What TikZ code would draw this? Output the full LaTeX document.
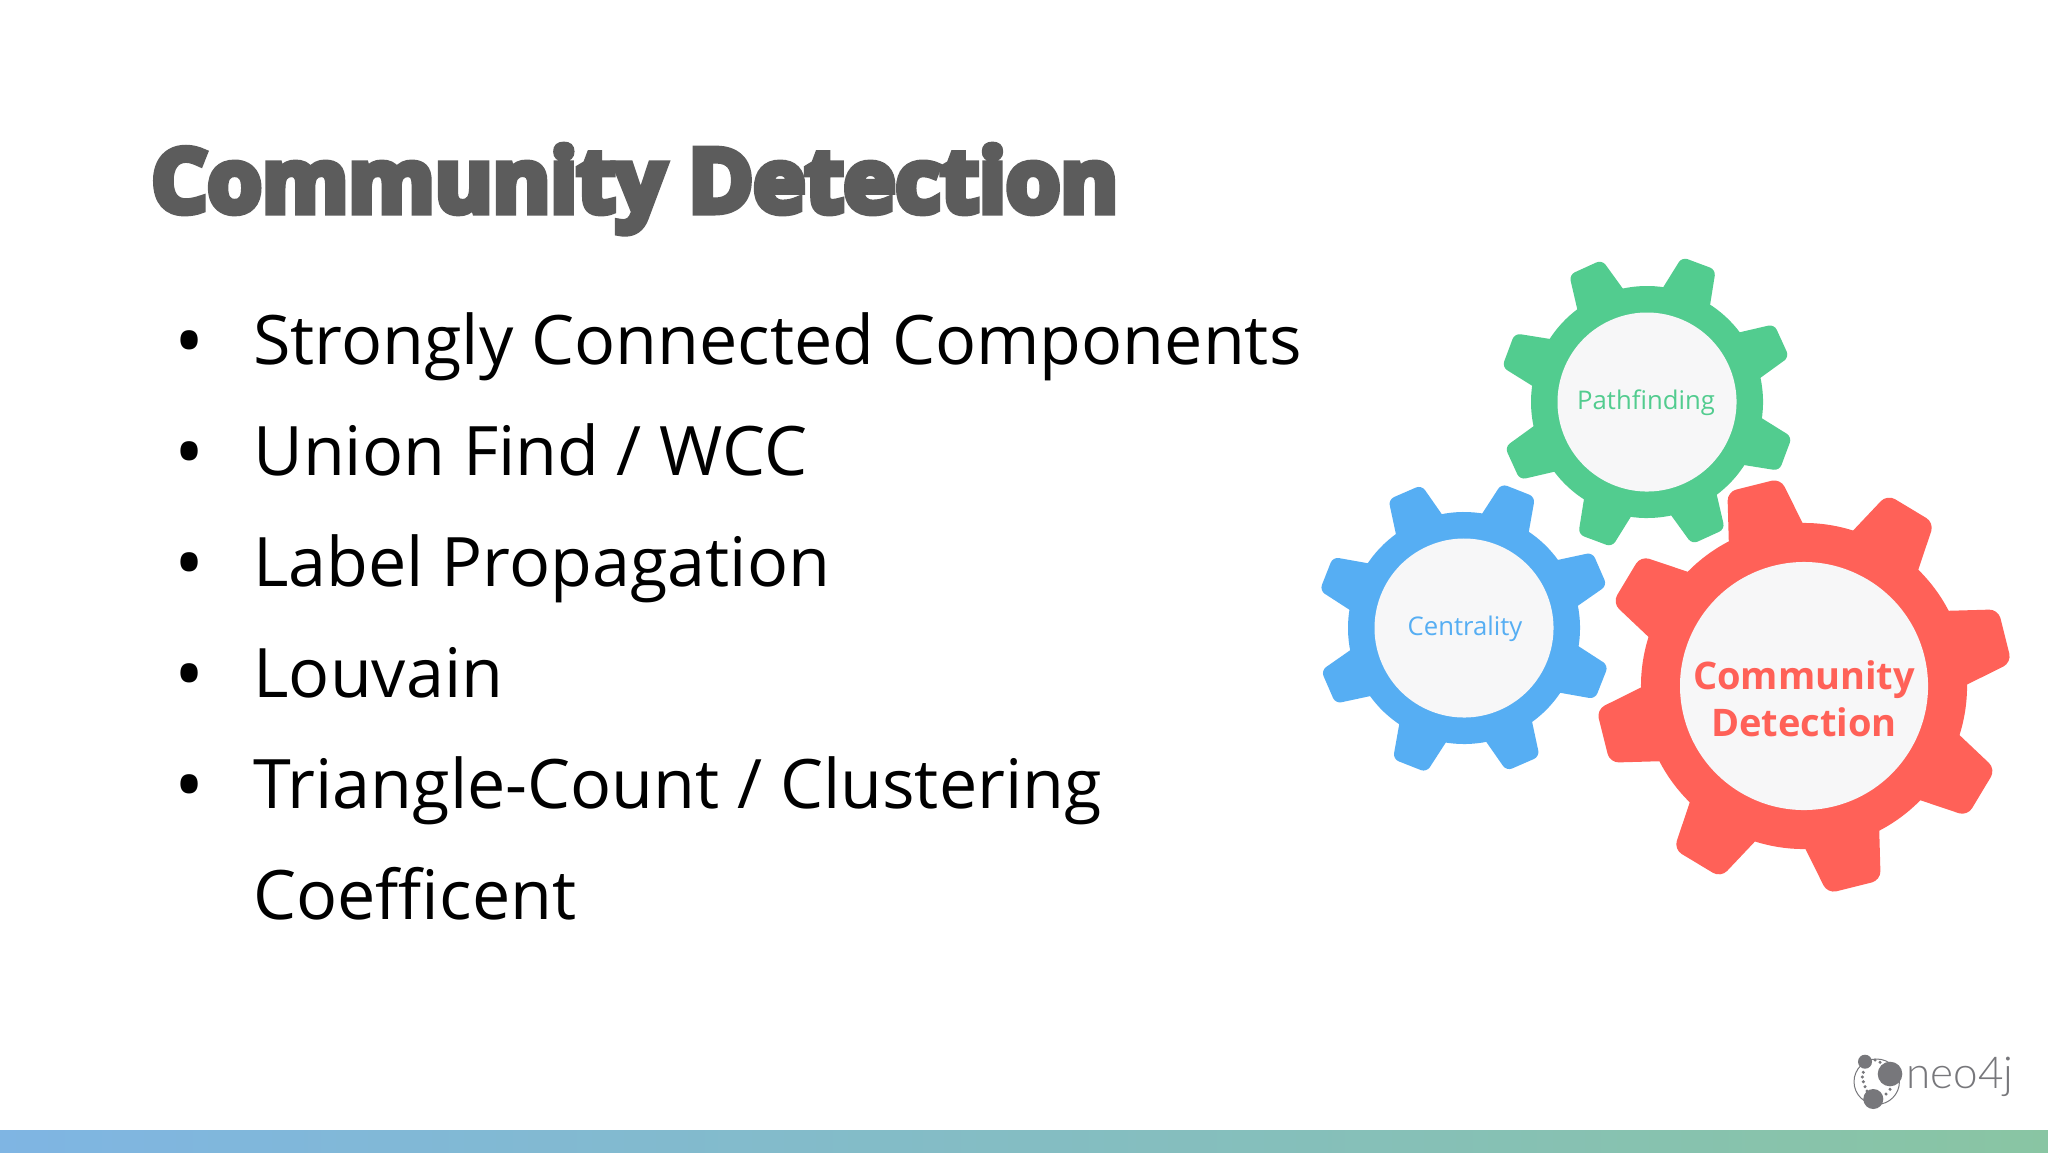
\documentclass[tikz,border=0pt]{standalone}
\usepackage{fontspec}
\setmainfont{Open Sans}
\newfontfamily\titlefont[BoldFeatures={FakeBold=8}]{Open Sans}
\newfontfamily\logofont{Lato Light}
\usetikzlibrary{calc}
\definecolor{cgreen}{HTML}{52CC8F}
\definecolor{cblue}{HTML}{56AEF3}
\definecolor{cred}{HTML}{FF6158}
\definecolor{chub}{HTML}{F7F7F8}
\definecolor{ctitle}{HTML}{5C5C5C}
\definecolor{clogo}{HTML}{77777B}
\definecolor{barl}{HTML}{7FB5E3}
\definecolor{barr}{HTML}{89C5A3}
\tikzset{
  itemtext/.style={anchor=base west,inner sep=0pt,font=\fontsize{34.12}{41}\selectfont,text=black},
  bulletmark/.style={anchor=base,inner sep=0pt,font=\fontsize{40}{46}\selectfont,text=black},
  titletext/.style={anchor=base west,inner sep=0pt,font=\titlefont\bfseries\fontsize{44}{52}\selectfont,text=ctitle},
  geartext/.style={anchor=center,inner sep=0pt,font=\fontsize{12.85}{16}\selectfont},
  logodot/.style={fill=clogo,draw=none}
}
% centre x, centre y, rotation, hub, root, tip, base half, tip half, corner radius, colour
\newcommand\cogwheel[9]{%
  \begin{scope}[shift={(#1,#2)},rotate=#3]
    \fill[#9] (0,0) circle[radius=#5];
    \foreach \ang in {0,45,...,315}{
      \begin{scope}[rotate=\ang]
        \pgfmathsetmacro\xb{#5-(#7)*(#7)/(2*#5)}
        \fill[#9] (#5-25,#7) -- (\xb,#7)
          [rounded corners=#8] -- (#6,{#7*0.72}) -- (#6,{-#7*0.72}) [sharp corners]
          -- (\xb,-#7) -- (#5-25,-#7) -- cycle;
      \end{scope}
    }
    \fill[chub] (0,0) circle[radius=#4];
  \end{scope}%
}
\begin{document}
\begin{tikzpicture}[x=0.5pt,y=-0.5pt]
\useasboundingbox (0,0) rectangle (2048,1152);
\fill[white] (0,0) rectangle (2048,1152);
\shade[left color=barl,right color=barr,draw=none] (0,1130) rectangle (2048,1152);

\node[titletext] (title) at (151,212) {Community Detection};

\foreach \nm/\yy in {a/369,b/480,c/591,d/702,e/813}{
  \node[bulletmark] (bul\nm) at (189.5,\yy) {•};
}
\node[itemtext] (i1) at (253,364) {Strongly Connected Components};
\node[itemtext] (i2) at (253,475) {Union Find / WCC};
\node[itemtext] (i3) at (253,586) {Label Propagation};
\node[itemtext] (i4) at (253,697) {Louvain};
\node[itemtext] (i5) at (253,808) {Triangle-Count / Clustering};
\node[itemtext] (i6) at (253,919) {Coefficent};

\cogwheel{1647}{402}{24.5}{89.5}{116}{148}{25}{3pt}{cgreen}
\cogwheel{1464}{628}{23.5}{89.5}{116}{148}{25}{3pt}{cblue}
\cogwheel{1804}{686}{14}{124}{163}{207}{38}{4.5pt}{cred}

\node[geartext,text=cgreen] (path) at (1646,402.5) {Pathfinding};
\node[geartext,text=cblue] (cent) at (1465,628.5) {Centrality};
\node[anchor=center,align=center,inner sep=0pt,text=cred,font=\bfseries\fontsize{19}{23.5}\selectfont] (comm) at (1804,699) {Community\\Detection};

% logo
\draw[clogo,line width=0.5pt] (1876.7,1081.7) circle[radius=22.7];
\fill[logodot] (1865,1061.7) circle[radius=7];
\fill[logodot] (1890,1074) circle[radius=12.3];
\fill[logodot] (1873.3,1099) circle[radius=10];
\foreach \dx/\dy in {1875/1060,1880/1062.3,1863.3/1072.3,1862.3/1077,1863.3/1081.7,1865/1086.7,1867/1091,1886/1094,1890/1089.3}{
  \fill[logodot] (\dx,\dy) circle[radius=1.7];
}
\node[anchor=base west,inner sep=0pt,text=clogo,font=\logofont\fontsize{22}{24}\selectfont] (logo) at (1906,1088) {neo4j};
\end{tikzpicture}
\end{document}
